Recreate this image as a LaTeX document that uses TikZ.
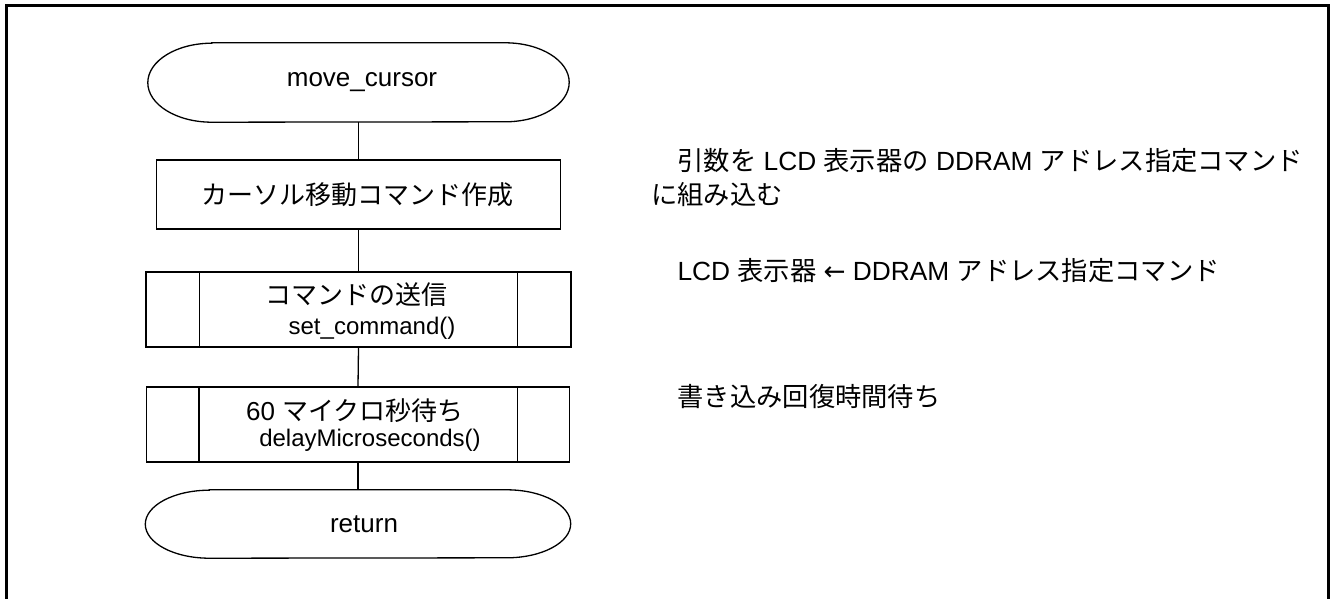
\documentclass[tikz,border=0pt]{standalone}
\usepackage{fontspec}
\setmainfont{Liberation Sans}
\newfontfamily\cjk{Noto Sans CJK JP}
\newfontfamily\dvs{DejaVu Sans}
\newcommand{\J}[1]{{\cjk #1}}
\begin{document}
\begin{tikzpicture}[x=1pt,y=-1pt,
  ln/.style={line width=1.3pt},
  frameline/.style={line width=2.7pt},
  shapebox/.style={inner sep=0pt,minimum height=#1},
  txt/.style={inner sep=0pt,font=\fontsize{26}{31}\selectfont},
  subtxt/.style={inner sep=0pt,font=\fontsize{24}{28}\selectfont},
  note/.style={inner sep=0pt,anchor=west,font=\fontsize{26.3}{31}\selectfont}]
\useasboundingbox (0,0) rectangle (1332,599);
% frame
\coordinate (fa) at (6.3,700);
\coordinate (fb) at (6.3,5.5);
\coordinate (fc) at (1328.5,5.5);
\coordinate (fd) at (1328.5,700);
\draw[frameline] (fa) -- (fb) -- (fc) -- (fd);
% start terminal
\node[shapebox=79,minimum width=421] (start) at (358.5,82.5) {};
\draw[ln] ([xshift=64pt]start.north west) -- ([xshift=-64pt]start.north east)
  arc[start angle=-90,end angle=90,x radius=64,y radius=39.5]
  -- ([xshift=64pt]start.south west)
  arc[start angle=90,end angle=270,x radius=64,y radius=39.5] -- cycle;
\node[txt] (starttxt) at (362,82.5) {move\_cursor};
% rectangle
\node[draw,ln,shapebox=69,minimum width=404] (rect) at (358.5,194.5) {};
\node[txt] (recttxt) at (357.5,194.5) {\J{カーソル移動コマンド作成}};
% predefined process 1
\node[draw,ln,shapebox=75,minimum width=425] (p1) at (358.5,309.5) {};
\draw[ln] ([xshift=54pt]p1.north west) -- ([xshift=54pt]p1.south west);
\draw[ln] ([xshift=-54pt]p1.north east) -- ([xshift=-54pt]p1.south east);
\node[txt] (p1a) at (356,295) {\J{コマンドの送信}};
\node[subtxt] (p1b) at (372,328) {set\_command()};
% predefined process 2
\node[draw,ln,shapebox=75,minimum width=423] (p2) at (358,424.5) {};
\draw[ln] ([xshift=53pt]p2.north west) -- ([xshift=53pt]p2.south west);
\draw[ln] ([xshift=-53pt]p2.north east) -- ([xshift=-53pt]p2.south east);
\node[txt] (p2a) at (355,411) {60 \J{マイクロ秒待ち}};
\node[subtxt] (p2b) at (370,440) {delayMicroseconds()};
% return terminal
\node[shapebox=68,minimum width=425] (ret) at (358,524) {};
\draw[ln] ([xshift=64pt]ret.north west) -- ([xshift=-64pt]ret.north east)
  arc[start angle=-90,end angle=90,x radius=64,y radius=34]
  -- ([xshift=64pt]ret.south west)
  arc[start angle=90,end angle=270,x radius=64,y radius=34] -- cycle;
\node[txt] (rettxt) at (364,524) {return};
% connectors
\draw[ln] (start.south) -- (rect.north);
\draw[ln] (rect.south) -- (p1.north);
\draw[ln] (p1.south) -- (p2.north);
\draw[ln] (p2.south) -- (ret.north);
% notes
\node[note] (n1a) at (651,161) {\J{　引数を} LCD \J{表示器の} DDRAM \J{アドレス指定コマンド}};
\node[note] (n1b) at (651,195) {\J{に組み込む}};
\node[note] (n2) at (651,271) {\J{　}LCD \J{表示器} {\dvs ←} DDRAM \J{アドレス指定コマンド}};
\node[note] (n3) at (651,397) {\J{　書き込み回復時間待ち}};
\end{tikzpicture}
\end{document}
